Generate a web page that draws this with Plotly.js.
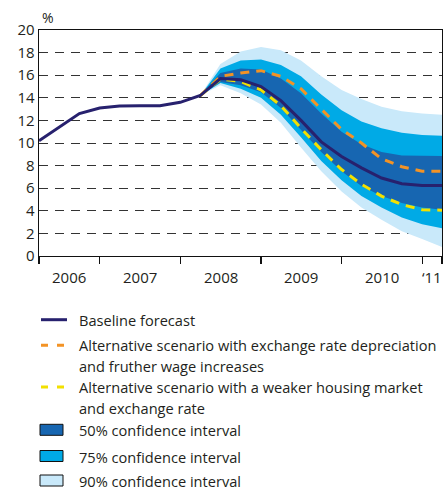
<!DOCTYPE html>
<html>
<head>
<meta charset="utf-8">
<script src="https://cdn.plot.ly/plotly-3.0.1.min.js"></script>
<style>
  html, body { margin: 0; padding: 0; background: #ffffff; }
  #chart { width: 443px; height: 491px; }
</style>
</head>
<body>
<div id="chart"></div>
<script>
// ---------- data ----------
const quarters = [
  '2006-04-01', '2006-07-01', '2006-10-01',
  '2007-01-01', '2007-04-01', '2007-07-01', '2007-10-01',
  '2008-01-01', '2008-04-01', '2008-07-01', '2008-10-01',
  '2009-01-01', '2009-04-01', '2009-07-01', '2009-10-01',
  '2010-01-01', '2010-04-01', '2010-07-01', '2010-10-01',
  '2011-01-01', '2011-04-01'
];
const baseline = [10.2, 11.4, 12.6, 13.1, 13.27, 13.3, 13.3, 13.6, 14.2,
                  15.7, 15.6, 15.0, 13.75, 12.0, 10.1, 8.8, 7.8, 6.9, 6.4, 6.25, 6.25];
const forecastStart = 8; // index of 2008-04-01 in quarters
const altDepreciation = [14.2, 15.9, 16.2, 16.4, 15.9, 14.8, 13.0, 11.2, 10.0, 8.6, 7.9, 7.5, 7.5];
const altHousing      = [14.2, 15.65, 15.45, 14.7, 13.3, 11.3, 9.4, 7.65, 6.35, 5.3, 4.55, 4.1, 4.05];
const ci50Upper = [14.2, 16.2, 16.6, 16.5, 15.7, 14.4, 12.6, 11.0, 9.9, 9.2, 8.9, 8.85, 8.85];
const ci50Lower = [14.2, 15.4, 15.1, 14.5, 13.1, 11.2, 9.2, 7.5, 6.2, 5.3, 4.7, 4.3, 4.1];
const ci75Upper = [14.2, 16.6, 17.3, 17.4, 16.9, 15.9, 14.3, 12.9, 11.9, 11.3, 10.9, 10.7, 10.65];
const ci75Lower = [14.2, 15.3, 14.8, 14.0, 12.5, 10.5, 8.4, 6.7, 5.3, 4.3, 3.4, 2.8, 2.45];
const ci90Upper = [14.2, 17.0, 18.1, 18.5, 18.2, 17.3, 15.9, 14.7, 13.9, 13.2, 12.8, 12.6, 12.5];
const ci90Lower = [14.2, 15.1, 14.4, 13.4, 11.8, 9.6, 7.5, 5.7, 4.3, 3.2, 2.2, 1.5, 0.8];

const yearTickVals = ['2006-04-01', '2007-01-01', '2008-01-01', '2009-01-01', '2010-01-01', '2011-01-01', '2011-04-01'];
const yearLabels = ['2006', '2007', '2008', '2009', '2010', '\u201811'];
const yearLabelPos = ['2006-08-16', '2007-07-02', '2008-07-02', '2009-07-02', '2010-07-02', '2011-02-15'];
const yUnit = '%';

const legendLabels = [
  'Baseline forecast',
  'Alternative scenario with exchange rate depreciation\nand fruther wage increases',
  'Alternative scenario with a weaker housing market\nand exchange rate',
  '50% confidence interval',
  '75% confidence interval',
  '90% confidence interval'
];

// ---------- styles ----------
const FONT = '"Open Sans", Lato, sans-serif';
const TXT = '#231f20';
const NAVY = '#27216e';
const ORANGE = '#f39325';
const YELLOW = '#f2e000';
const C50 = '#1766b1';
const C75 = '#00aae6';
const C90 = '#c9e9fa';

const fq = quarters.slice(forecastStart);
function band(upper, lower, color, name) {
  return {
    x: fq.concat(fq.slice().reverse()),
    y: upper.concat(lower.slice().reverse()),
    type: 'scatter', mode: 'lines', fill: 'toself',
    fillcolor: color, line: {width: 0, color: color},
    hoverinfo: 'skip', showlegend: false, name: name
  };
}

const traces = [
  band(ci90Upper, ci90Lower, C90, legendLabels[5]),
  band(ci75Upper, ci75Lower, C75, legendLabels[4]),
  band(ci50Upper, ci50Lower, C50, legendLabels[3]),
  {x: fq, y: altHousing, type: 'scatter', mode: 'lines', showlegend: false,
   name: legendLabels[2], line: {color: YELLOW, width: 3, dash: '9px,7px'}},
  {x: fq, y: altDepreciation, type: 'scatter', mode: 'lines', showlegend: false,
   name: legendLabels[1], line: {color: ORANGE, width: 3, dash: '9px,7px'}},
  {x: quarters, y: baseline, type: 'scatter', mode: 'lines', showlegend: false,
   name: legendLabels[0], line: {color: NAVY, width: 3}}
];

// ---------- layout helpers ----------
const L = 39, R = 442, T = 30, B = 256;
const px2x = X => (X - L) / (R - L);
const px2y = Y => (B - Y) / (B - T);

const annotations = [];
const shapes = [];

yearLabels.forEach((t, i) => {
  annotations.push({
    x: yearLabelPos[i], xref: 'x', y: 0, yref: 'paper',
    yanchor: 'top', yshift: -9, showarrow: false, text: t,
    font: {family: FONT, size: 15, color: TXT}
  });
});
annotations.push({
  x: 0, xref: 'paper', y: 1, yref: 'paper', xanchor: 'left', yanchor: 'bottom',
  xshift: 1, yshift: 1, showarrow: false, text: yUnit,
  font: {family: FONT, size: 14, color: TXT}
});

// custom legend
const rowY = [319.7, 345.2, 387.0, 430.3, 456.5, 481.0];
const lineStep = 20.5;
const symbols = [
  {kind: 'line', color: NAVY, dash: 'solid'},
  {kind: 'line', color: ORANGE, dash: '7px,9px'},
  {kind: 'line', color: YELLOW, dash: '7px,9px'},
  {kind: 'box', color: C50},
  {kind: 'box', color: C75},
  {kind: 'box', color: C90}
];
legendLabels.forEach((lab, i) => {
  const lines = lab.split('\n');
  lines.forEach((ln, j) => {
    annotations.push({
      x: px2x(78), xref: 'paper', y: px2y(rowY[i] + j * lineStep), yref: 'paper',
      xanchor: 'left', yanchor: 'middle', showarrow: false, text: ln, borderpad: 0,
      font: {family: FONT, size: 14.6, color: TXT}
    });
  });
  const s = symbols[i];
  if (s.kind === 'line') {
    shapes.push({type: 'line', xref: 'paper', yref: 'paper',
      x0: px2x(41), x1: px2x(67), y0: px2y(rowY[i]), y1: px2y(rowY[i]),
      line: {color: s.color, width: 3, dash: s.dash}});
  } else {
    shapes.push({type: 'rect', xref: 'paper', yref: 'paper',
      x0: px2x(40), x1: px2x(63), y0: px2y(rowY[i] - 6), y1: px2y(rowY[i] + 5),
      fillcolor: s.color, line: {color: '#111111', width: 1}});
  }
});

const layout = {
  width: 443, height: 491,
  margin: {l: L, r: 443 - R, t: T, b: 491 - B, pad: 0},
  paper_bgcolor: '#ffffff', plot_bgcolor: '#ffffff',
  showlegend: false,
  xaxis: {
    type: 'date', range: [quarters[0], quarters[quarters.length - 1]],
    tickmode: 'array', tickvals: yearTickVals, showticklabels: false,
    ticks: 'outside', ticklen: 7, tickwidth: 1.2, tickcolor: '#111',
    showline: true, mirror: true, linecolor: '#111', linewidth: 1.3,
    showgrid: false, zeroline: false, fixedrange: true
  },
  yaxis: {
    range: [0, 20], tickmode: 'linear', tick0: 0, dtick: 2,
    ticks: '', showline: true, mirror: true, linecolor: '#111', linewidth: 1.3,
    showgrid: true, gridcolor: '#333333', gridwidth: 1, griddash: '9px,7px',
    zeroline: false, fixedrange: true,
    tickfont: {family: FONT, size: 15, color: TXT}
  },
  annotations: annotations,
  shapes: shapes
};

Plotly.newPlot('chart', traces, layout, {displayModeBar: false, staticPlot: true});
</script>
</body>
</html>
